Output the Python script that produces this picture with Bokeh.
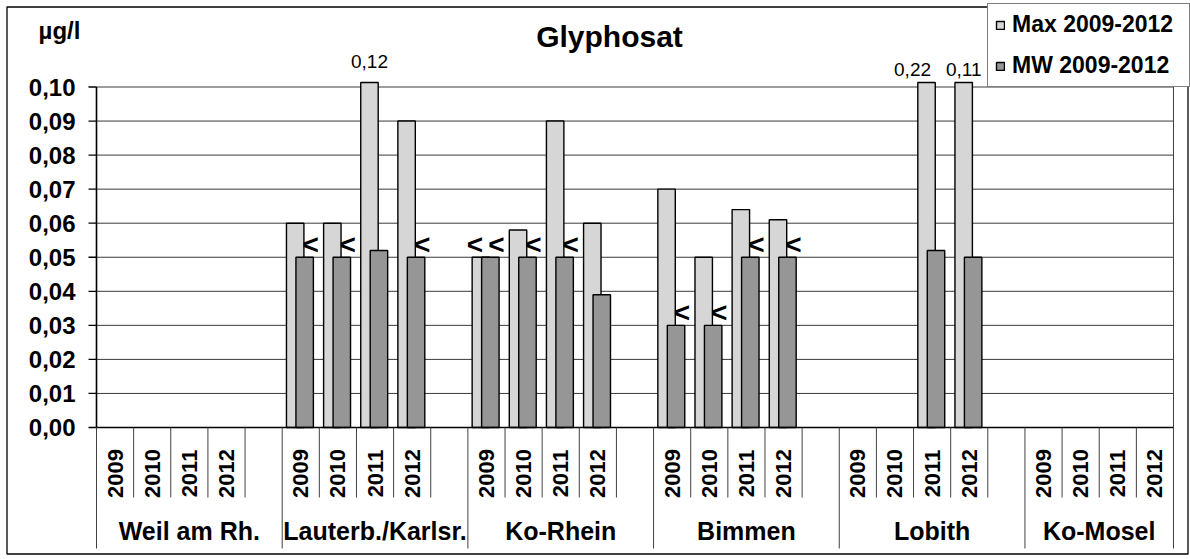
import math
from bokeh.plotting import figure
from bokeh.models import Range1d, Legend, LegendItem, ColumnDataSource
from bokeh.core.properties import value
from bokeh.embed import file_html
from bokeh.resources import INLINE

# ---------------- data ----------------
title_text = "Glyphosat"
unit_text = "µg/l"
stations = ["Weil am Rh.", "Lauterb./Karlsr.", "Ko-Rhein", "Bimmen", "Lobith", "Ko-Mosel"]
years = ["2009", "2010", "2011", "2012"]
series_names = ["Max 2009-2012", "MW 2009-2012"]
nan = float("nan")
max_values = [nan, nan, nan, nan,
              0.06, 0.06, 0.12, 0.09,
              0.05, 0.058, 0.09, 0.06,
              0.07, 0.05, 0.064, 0.061,
              nan, nan, 0.22, 0.11,
              nan, nan, nan, nan]
mw_values = [nan, nan, nan, nan,
             0.05, 0.05, 0.052, 0.05,
             0.05, 0.05, 0.05, 0.039,
             0.03, 0.03, 0.05, 0.05,
             nan, nan, 0.052, 0.05,
             nan, nan, nan, nan]
max_below = [False, False, False, False,
             False, False, False, False,
             True, False, False, False,
             False, False, False, False,
             False, False, False, False,
             False, False, False, False]
mw_below = [False, False, False, False,
            True, True, False, True,
            True, True, True, False,
            True, True, True, True,
            False, False, False, False,
            False, False, False, False]
y_ticks = [0.00, 0.01, 0.02, 0.03, 0.04, 0.05, 0.06, 0.07, 0.08, 0.09, 0.10]
y_axis_max = 0.10

# ---------------- layout ----------------
FONT = "Liberation Sans"
W, H = 1190, 559
AXIS_LEFT_PX, AXIS_ZERO_PX = 96, 427
slots_per_group = 5
n_slots = slots_per_group * (len(stations) - 1) + len(years)   # 29
SLOT_PX = 1077 / n_slots
Y_PX = 34.05 / 0.01


def dx(px):          # horizontal pixel distance -> data
    return px / SLOT_PX


def dy(px):          # vertical pixel distance -> data
    return px / Y_PX


def sx(px):          # screen x -> data x
    return (px - AXIS_LEFT_PX) / SLOT_PX


def sy(py):          # screen y -> data y
    return (AXIS_ZERO_PX - py) / Y_PX


plot_top = sy(82)
MAX_OFF, MW_OFF, BAR_W = 0.35, 0.605, 0.47
MAX_COLOR, MW_COLOR = "#d6d6d6", "#969696"


def slot_of(idx):
    return slots_per_group * (idx // len(years)) + idx % len(years)


p = figure(width=W, height=H, output_backend="svg", toolbar_location=None,
           x_range=Range1d(sx(0), sx(W)), y_range=Range1d(sy(H), sy(0)),
           x_axis_type=None, y_axis_type=None, min_border=0)
p.min_border_left = p.min_border_right = p.min_border_top = p.min_border_bottom = 0
p.outline_line_color = None
p.background_fill_color = "white"
p.border_fill_color = "white"
p.xgrid.visible = False
p.ygrid.visible = False

# outer chart border
p.quad(left=[sx(6.5)], right=[sx(1187.5)], top=[sy(6.5)], bottom=[sy(553.5)],
       fill_color=None, line_color="#000000", line_width=1.3)

# gridlines
p.segment(x0=[0] * len(y_ticks), y0=y_ticks, x1=[n_slots] * len(y_ticks), y1=y_ticks,
          line_color="#3a3a3a", line_width=1)

# y axis
p.segment(x0=[0], y0=[0], x1=[0], y1=[y_axis_max], line_color="#000000", line_width=1.6)
p.segment(x0=[-dx(8)] * len(y_ticks), y0=y_ticks, x1=[0] * len(y_ticks), y1=y_ticks,
          line_color="#000000", line_width=1.3)
p.text(x=[-dx(21)] * len(y_ticks), y=y_ticks,
       text=[f"{t:.2f}".replace(".", ",") for t in y_ticks],
       text_align="right", text_baseline="middle", text_font=value(FONT),
       text_font_style="bold", text_font_size="24px", text_color="#000000")

# bars
mx_idx = [i for i, v in enumerate(max_values) if not math.isnan(v)]
mw_idx = [i for i, v in enumerate(mw_values) if not math.isnan(v)]
src_max = ColumnDataSource(dict(x=[slot_of(i) + MAX_OFF for i in mx_idx],
                                top=[min(max_values[i], plot_top) for i in mx_idx]))
src_mw = ColumnDataSource(dict(x=[slot_of(i) + MW_OFF for i in mw_idx],
                               top=[min(mw_values[i], plot_top) for i in mw_idx]))
r_max = p.vbar(x="x", top="top", bottom=0, width=BAR_W, source=src_max,
               fill_color=MAX_COLOR, line_color="#000000", line_width=1.4)
r_mw = p.vbar(x="x", top="top", bottom=0, width=BAR_W, source=src_mw,
              fill_color=MW_COLOR, line_color="#000000", line_width=1.4)

# category axis line and separators
p.segment(x0=[0], y0=[0], x1=[n_slots], y1=[0], line_color="#000000", line_width=1.6)
short_x = [i for i in range(1, n_slots) if i % slots_per_group != 0]
long_x = [i for i in range(0, n_slots, slots_per_group)]
p.segment(x0=short_x, y0=[0] * len(short_x), x1=short_x, y1=[-dy(70)] * len(short_x),
          line_color="#404040", line_width=1)
p.segment(x0=long_x, y0=[0] * len(long_x), x1=long_x, y1=[sy(548)] * len(long_x),
          line_color="#404040", line_width=1)
p.segment(x0=[n_slots], y0=[sy(548)], x1=[n_slots], y1=[plot_top],
          line_color="#404040", line_width=1)

# year labels
yl_x, yl_t = [], []
for s in range(len(stations)):
    for k, yr in enumerate(years):
        yl_x.append(slots_per_group * s + k + 0.5)
        yl_t.append(yr)
p.text(x=yl_x, y=[-dy(46)] * len(yl_x), text=yl_t, angle=math.pi / 2,
       text_align="center", text_baseline="middle", text_font=value(FONT),
       text_font_style="bold", text_font_size="22px", text_color="#000000")

# station labels
st_x = [slots_per_group * s + (slots_per_group if s < len(stations) - 1 else len(years)) / 2
        for s in range(len(stations))]
p.text(x=st_x, y=[-dy(103)] * len(st_x), text=stations,
       text_align="center", text_baseline="middle", text_font=value(FONT),
       text_font_style="bold", text_font_size="25px", text_color="#000000")

# "<" markers
lt_x, lt_y = [], []
for i, b in enumerate(mw_below):
    if b:
        lt_x.append(slot_of(i) + MW_OFF + dx(6))
        lt_y.append(mw_values[i] + dy(13))
for i, b in enumerate(max_below):
    if b:
        lt_x.append(slot_of(i) + MAX_OFF - dx(6))
        lt_y.append(max_values[i] + dy(13))
p.text(x=lt_x, y=lt_y, text=["<"] * len(lt_x), text_align="center", text_baseline="middle",
       text_font=value(FONT), text_font_style="bold", text_font_size="28px",
       text_color="#000000")

# overflow value labels (above the plot area)
overflow_shift = {6: (0, 21), 18: (-14, 13), 19: (0, 13)}
ov_x, ov_y, ov_t = [], [], []
for i, v in enumerate(max_values):
    if not math.isnan(v) and v > y_axis_max:
        ddx, ddy = overflow_shift.get(i, (0, 15))
        ov_x.append(slot_of(i) + MAX_OFF + dx(ddx))
        ov_y.append(plot_top + dy(ddy))
        ov_t.append(f"{v:.2f}".replace(".", ","))
p.text(x=ov_x, y=ov_y, text=ov_t, text_align="center", text_baseline="middle",
       text_font=value(FONT), text_font_size="19px", text_color="#000000")

# title and unit
p.text(x=[sx(609)], y=[sy(36)], text=[title_text], text_align="center",
       text_baseline="middle", text_font=value(FONT), text_font_style="bold",
       text_font_size="30px", text_color="#000000")
p.text(x=[sx(59)], y=[sy(30)], text=[unit_text], text_align="center",
       text_baseline="middle", text_font=value(FONT), text_font_style="bold",
       text_font_size="24px", text_color="#000000")

# legend
legend = Legend(items=[LegendItem(label=series_names[0], renderers=[r_max]),
                       LegendItem(label=series_names[1], renderers=[r_mw])],
                location=(987, H - 87), orientation="vertical",
                label_text_font=FONT, label_text_font_style="bold",
                label_text_font_size="23px", label_text_color="#000000",
                label_height=22, label_width=170, label_standoff=7,
                glyph_width=10, glyph_height=10, padding=7, spacing=14, margin=0,
                border_line_color="#000000", border_line_width=1.3,
                background_fill_color="white", background_fill_alpha=1.0)
p.add_layout(legend)

open("out.html", "w").write(file_html(p, INLINE))
